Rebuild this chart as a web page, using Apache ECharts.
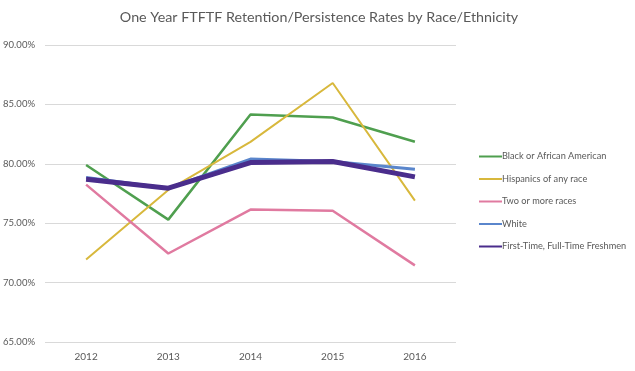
<!DOCTYPE html>
<html><head><meta charset="utf-8">
<script src="https://cdn.jsdelivr.net/npm/echarts@6/dist/echarts.min.js"></script>
<style>html,body{margin:0;padding:0;background:#fff}#c{width:635px;height:371px}</style>
</head><body><div id="c"></div>
<script>
const categories = ['2012','2013','2014','2015','2016'];
const black = [79.9, 75.3, 84.15, 83.9, 81.85];
const hispanic = [71.95, 77.8, 81.85, 86.8, 76.9];
const twoOrMore = [78.25, 72.45, 76.15, 76.05, 71.45];
const white = [78.85, 77.95, 80.4, 80.2, 79.55];
const ftftf = [78.7, 77.95, 80.1, 80.2, 78.9];
const seriesNames = ['Black or African American','Hispanics of any race','Two or more races','White','First-Time, Full-Time Freshmen'];

const font = 'Lato';
const chart = echarts.init(document.getElementById('c'));
function mk(name, data, color, width){
  return {name, type:'line', data, symbol:'none', smooth:false,
    lineStyle:{color, width}, itemStyle:{color}};
}
chart.setOption({
  animation:false,
  title:{text:'One Year FTFTF Retention/Persistence Rates by Race/Ethnicity', left:314, textAlign:'center', top:5,
    textStyle:{fontFamily:font, fontSize:14.3, fontWeight:'normal', color:'#595959'}},
  grid:{left:45, right:179, top:45, bottom:29},
  legend:{orient:'vertical', left:473, top:147, itemWidth:23, itemHeight:10, itemGap:13.5,
    itemStyle:{opacity:0},
    textStyle:{fontFamily:font, fontSize:9.2, color:'#595959', padding:[0,0,0,-5]},
    data:seriesNames},
  xAxis:{type:'category', data:categories, boundaryGap:true,
    axisLine:{show:false}, axisTick:{show:false},
    axisLabel:{fontFamily:font, fontSize:10, color:'#595959', margin:10}},
  yAxis:{type:'value', min:65, max:90, interval:5,
    axisLabel:{fontFamily:font, fontSize:9.5, color:'#595959', margin:10, formatter:v=>v.toFixed(2)+'%'},
    splitLine:{lineStyle:{color:'#d9d9d9', width:1}}},
  series:[
    mk(seriesNames[0], black, '#4f9f4f', 2.5),
    mk(seriesNames[1], hispanic, '#d8b83c', 2),
    mk(seriesNames[2], twoOrMore, '#e07aa0', 2.5),
    mk(seriesNames[3], white, '#5a86cc', 3),
    mk(seriesNames[4], ftftf, '#4a2d8c', 5)
  ]
});
</script></body></html>
